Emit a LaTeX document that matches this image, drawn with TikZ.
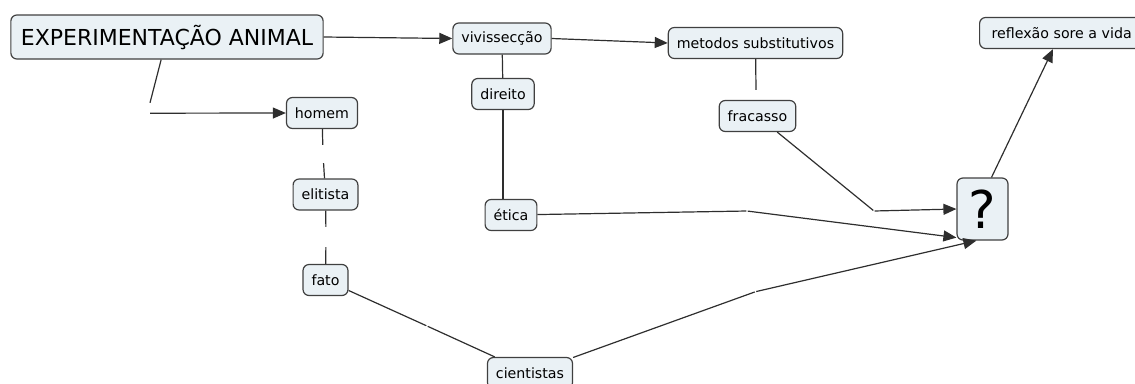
\documentclass[tikz,border=0pt]{standalone}
\usepackage{fontspec}
\setmainfont{DejaVu Sans}
\usetikzlibrary{arrows.meta, positioning, calc}

\definecolor{boxfill}{HTML}{EAF1F5}
\definecolor{boxline}{HTML}{404040}
\definecolor{linkline}{HTML}{2E2E2E}

\begin{document}
\begin{tikzpicture}[
  x=1pt, y=-1pt,
  concept/.style = {draw=boxline, fill=boxfill, line width=1.2pt, rounded corners=6pt,
                    inner xsep=8.5pt, inner ysep=0pt, minimum height=31pt,
                    font=\fontsize{14.2}{17}\selectfont},
  link/.style = {draw=linkline, line width=1.2pt},
  arrow/.style = {link, -{Triangle[length=13pt, width=11pt]}},
  phrase/.style = {inner sep=0pt, minimum width=1pt, minimum height=#1},
  phrase/.default = 5pt
]
  \useasboundingbox (0,0) rectangle (1135,383);

  % Main concept
  \node[concept, minimum height=44pt, inner xsep=10pt,
        font=\fontsize{22}{26}\selectfont] (experim) at (167,37) {EXPERIMENTAÇÃO ANIMAL};

  % Top row
  \node[concept] (viviss) at (502,38.5) {vivissecção};
  \node[concept] (metodos) at (755.5,43) {metodos substitutivos};
  \node[concept, anchor=west, inner xsep=12pt] (reflexao) at (979,33) {reflexão sore a vida};

  % Left column
  \node[concept] (homem) at (322,113) {homem};
  \node[concept] (elitista) at (325.5,194.5) {elitista};
  \node[concept] (fato) at (325.5,280) {fato};
  \node[concept] (cientistas) at (530,373) {cientistas};

  % Middle column
  \node[concept] (direito) at (503,94) {direito};
  \node[concept] (etica) at (511,215) {ética};
  \node[concept] (fracasso) at (757.5,116) {fracasso};

  % Question
  \node[concept, minimum width=51pt, minimum height=62pt, inner sep=0pt,
        font=\fontsize{52}{52}\selectfont] (quest) at (982.5,209) {?};

  % hidden linking phrases
  \node[phrase=10pt] (lp-homem) at (150,108) {};
  \node[phrase=18pt] (lp-elitista) at (323,154) {};
  \node[phrase=20pt] (lp-fato) at (326,237) {};
  \node[phrase] (lp-cient) at (427,326) {};
  \node[phrase] (lp-quest) at (755.5,291.7) {};
  \node[phrase] (lp-etica) at (747,211) {};
  \node[phrase] (lp-fracasso) at (874,211) {};
  \node[phrase=10pt] (lp-metodos) at (756,95) {};

  % experimentacao -> vivisseccao -> metodos
  \draw[arrow] (experim.east) -- (viviss.west);
  \draw[arrow] (viviss.east) -- (metodos.west);

  % experimentacao -> homem
  \draw[link] (experim) -- (lp-homem.north);
  \draw[arrow] (lp-homem.south) -- (homem.west);

  % homem -> elitista -> fato -> cientistas
  \draw[link] (homem) -- (lp-elitista);
  \draw[link] (lp-elitista) -- (elitista);
  \draw[link] (elitista) -- (lp-fato);
  \draw[link] (lp-fato) -- (fato);
  \draw[link] (fato) -- (lp-cient);
  \draw[link] (lp-cient) -- (cientistas);

  % vivisseccao -> direito -> etica
  \draw[link] (viviss) -- (direito);
  \draw[link] (direito.south) -- (direito.south |- etica.north);

  % metodos -> fracasso
  \draw[link] (metodos) -- (lp-metodos.north);

  % into the question
  \draw[link] (fracasso) -- (lp-fracasso);
  \draw[arrow] (lp-fracasso) -- (quest.west);
  \draw[link] (etica) -- (lp-etica);
  \draw[arrow] (lp-etica) -- ([yshift=3pt]quest.south west);
  \draw[link] (cientistas) -- (lp-quest);
  \draw[arrow] (lp-quest) -- ([xshift=20pt]quest.south west);

  % question -> reflexao
  \draw[arrow] ([xshift=9pt]quest.north) -- ([xshift=74pt]reflexao.south west);

\end{tikzpicture}
\end{document}
